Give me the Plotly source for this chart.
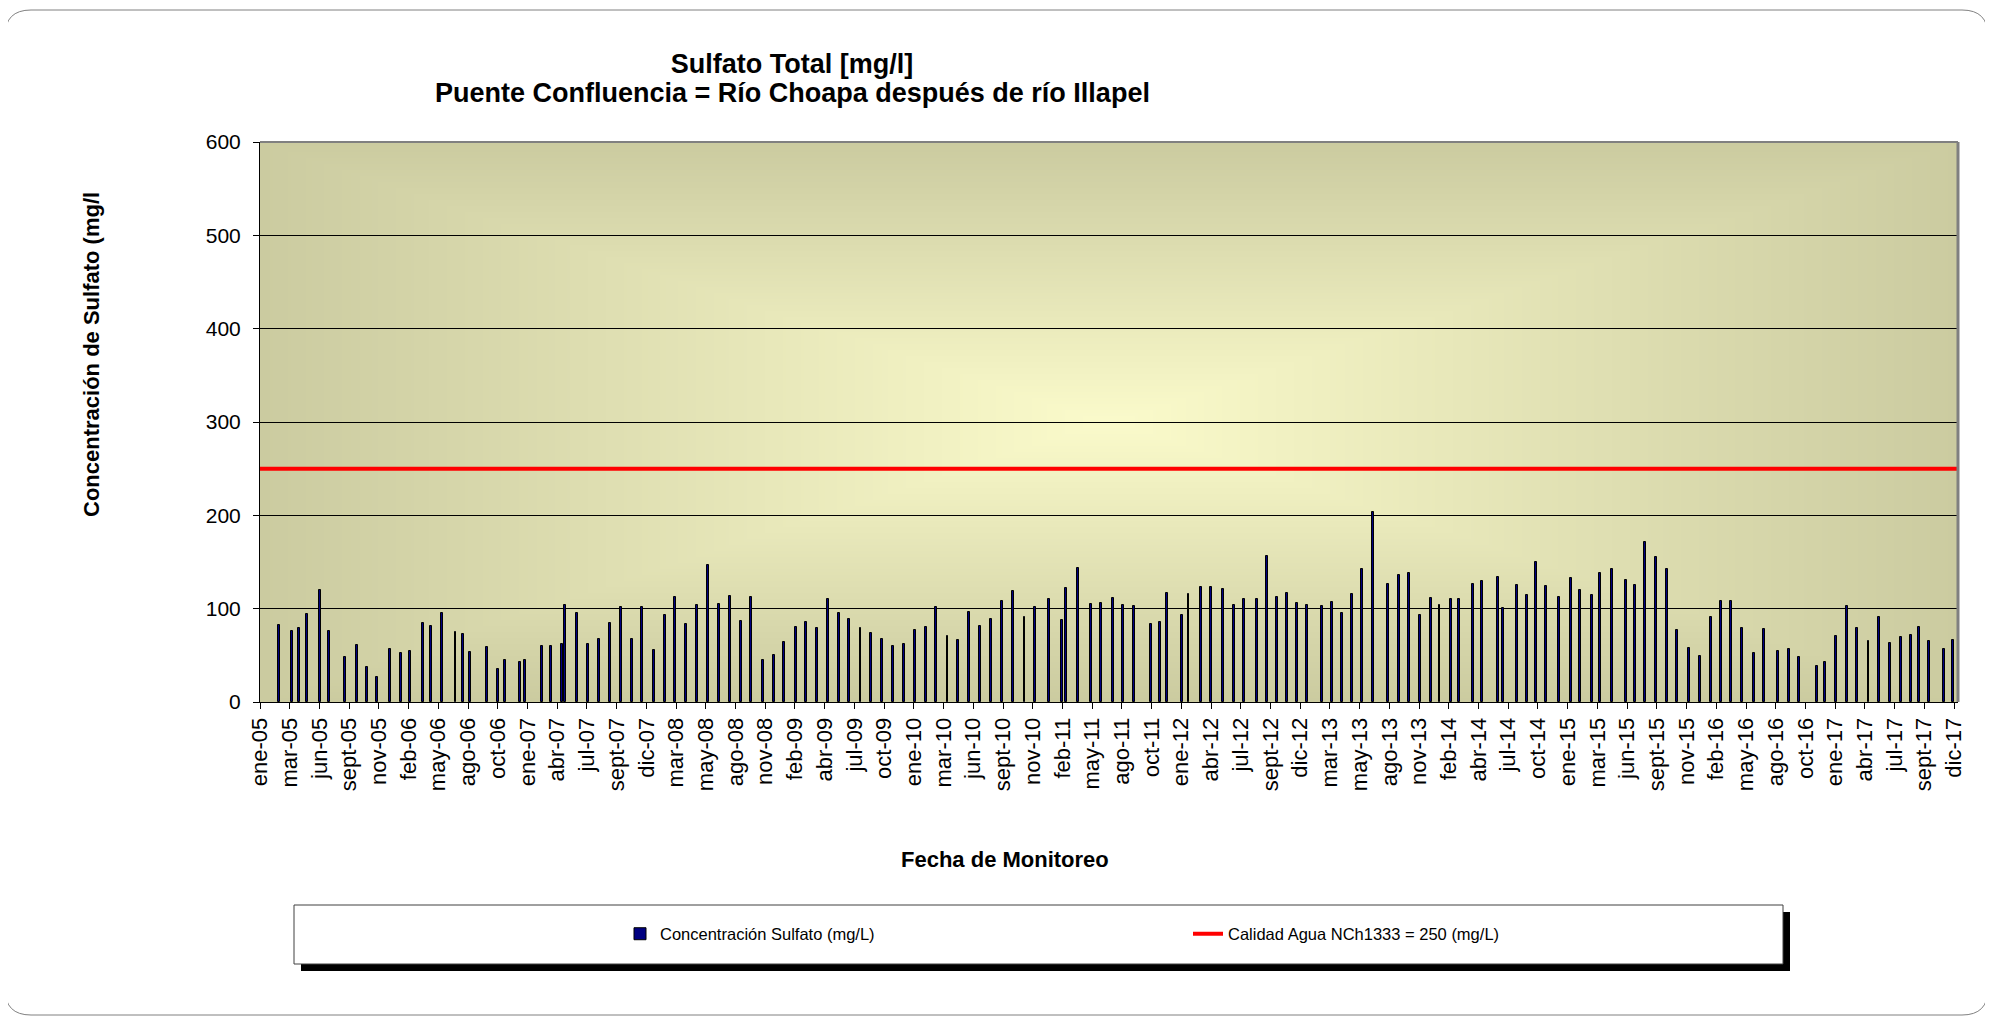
import base64
import struct
import zlib

import numpy as np
import pandas as pd
import plotly.graph_objects as go

# ---------------- data ----------------
fechas = [
    "2005-02-24", "2005-03-31", "2005-04-19", "2005-05-13", "2005-06-18", "2005-07-13", "2005-08-26",
    "2005-09-30", "2005-10-26", "2005-11-24", "2005-12-30", "2006-01-31", "2006-02-24", "2006-04-02",
    "2006-04-23", "2006-05-24", "2006-07-01", "2006-07-23", "2006-08-11", "2006-09-28", "2006-10-28",
    "2006-11-16", "2006-12-29", "2007-01-11", "2007-02-28", "2007-03-24", "2007-04-25", "2007-05-04",
    "2007-06-06", "2007-07-05", "2007-08-07",
    "2007-09-05", "2007-10-05", "2007-11-06", "2007-12-05", "2008-01-05", "2008-02-05", "2008-03-06",
    "2008-04-06", "2008-05-05", "2008-06-06", "2008-07-05", "2008-08-06", "2008-09-05", "2008-10-04",
    "2008-11-06", "2008-12-06", "2009-01-04", "2009-02-05", "2009-03-05", "2009-04-06", "2009-05-05",
    "2009-06-05", "2009-07-05", "2009-08-05", "2009-09-04", "2009-10-05", "2009-11-05", "2009-12-05",
    "2010-01-05", "2010-02-05", "2010-03-05",
    "2010-04-05", "2010-05-05", "2010-06-05", "2010-07-06", "2010-08-05", "2010-09-05", "2010-10-06",
    "2010-11-06", "2010-12-05", "2011-01-14", "2011-02-20", "2011-03-02", "2011-04-05", "2011-05-12",
    "2011-06-08", "2011-07-12", "2011-08-08", "2011-09-09", "2011-10-26", "2011-11-19", "2011-12-08",
    "2012-01-20", "2012-02-07", "2012-03-14", "2012-04-11", "2012-05-12", "2012-06-14", "2012-07-12",
    "2012-08-16", "2012-09-13", "2012-10-12",
    "2012-11-09", "2012-12-06", "2013-01-04", "2013-02-15", "2013-03-15", "2013-04-12", "2013-05-08",
    "2013-06-05", "2013-07-07", "2013-08-18", "2013-09-18", "2013-10-15", "2013-11-14", "2013-12-14",
    "2014-01-08", "2014-02-10", "2014-03-04", "2014-04-11", "2014-05-08", "2014-06-19", "2014-07-05",
    "2014-08-13", "2014-09-10", "2014-10-05", "2014-11-02", "2014-12-08", "2015-01-09", "2015-02-03",
    "2015-03-11", "2015-04-02", "2015-05-05",
    "2015-06-13", "2015-07-09", "2015-08-06", "2015-09-04", "2015-10-04", "2015-11-03", "2015-12-06",
    "2016-01-06", "2016-02-05", "2016-03-05", "2016-04-02", "2016-05-02", "2016-06-03", "2016-07-03",
    "2016-08-10", "2016-09-09", "2016-10-09", "2016-11-27", "2016-12-20", "2017-01-19", "2017-02-20",
    "2017-03-20", "2017-04-20", "2017-05-20", "2017-06-19", "2017-07-20", "2017-08-18", "2017-09-08",
    "2017-10-06", "2017-11-17", "2017-12-13",
]

sulfato = [
    83, 76, 79, 94, 120, 76, 48, 61, 38, 27, 57, 53, 55, 85, 81, 95, 75, 73, 54, 59, 35, 45, 43, 45,
    60, 60, 62, 104, 95, 62, 68,
    85, 102, 67, 102, 56, 93, 112, 84, 104, 147, 105, 114, 87, 113, 45, 50, 64, 80, 86, 79, 110, 95,
    89, 79, 74, 68, 60, 62, 77, 80, 102,
    71, 66, 96, 81, 89, 108, 119, 91, 102, 110, 88, 122, 144, 105, 106, 111, 104, 103, 84, 86, 117,
    93, 116, 123, 123, 121, 104, 110, 110, 156, 113,
    117, 106, 104, 103, 107, 95, 116, 142, 204, 126, 136, 138, 93, 111, 104, 110, 110, 126, 130, 134,
    101, 125, 115, 150, 124, 112, 133, 120, 115, 138, 142,
    131, 125, 171, 155, 142, 77, 58, 49, 91, 108, 108, 79, 52, 78, 55, 57, 48, 39, 43, 71, 103, 79,
    65, 91, 63, 70, 72, 80, 65, 57, 66,
]

limite_nch1333 = 250

etiquetas_x = [
    "ene-05", "mar-05", "jun-05", "sept-05", "nov-05", "feb-06", "may-06", "ago-06", "oct-06",
    "ene-07", "abr-07", "jul-07", "sept-07", "dic-07", "mar-08", "may-08", "ago-08", "nov-08",
    "feb-09", "abr-09", "jul-09", "oct-09", "ene-10", "mar-10", "jun-10", "sept-10", "nov-10",
    "feb-11", "may-11", "ago-11", "oct-11", "ene-12", "abr-12", "jul-12", "sept-12", "dic-12",
    "mar-13", "may-13", "ago-13", "nov-13", "feb-14", "abr-14", "jul-14", "oct-14", "ene-15",
    "mar-15", "jun-15", "sept-15", "nov-15", "feb-16", "may-16", "ago-16", "oct-16", "ene-17",
    "abr-17", "jul-17", "sept-17", "dic-17",
]

titulo_1 = "Sulfato Total [mg/l]"
titulo_2 = "Puente Confluencia = Río Choapa después de río Illapel"

# ---------------- layout geometry (page pixels) ----------------
PAGE_W, PAGE_H = 1993, 1019
OFF = 8                       # default body margin of the html page
W, H = PAGE_W - OFF, PAGE_H - OFF
PL, PR, PT, PB = 260, 1958, 142, 702  # plot area, page pixels
FONT = "Liberation Sans, Arial, sans-serif"

x_inicio = pd.Timestamp("2005-01-01")
x_fin = pd.Timestamp("2017-12-26")
paso_ticks = 83  # days between major ticks (Excel date axis)
tickvals = [(x_inicio + pd.Timedelta(days=paso_ticks * k)).strftime("%Y-%m-%d")
            for k in range(len(etiquetas_x))]


def px(xp):
    return (xp - PL) / (PR - PL)


def py(yp):
    return (PB - yp) / (PB - PT)


# ---------------- gradient background (Excel "from center") ----------------
def gradient_png(w, h, c_center, c_edge):
    xs = np.linspace(-1, 1, w)
    ys = np.linspace(-1, 1, h)
    X, Y = np.meshgrid(xs, ys)
    t = np.clip(np.maximum(np.abs(X), np.abs(Y)), 0, 1)
    cc = np.array(c_center, float)
    ce = np.array(c_edge, float)
    img = cc[None, None, :] * (1 - t[..., None]) + ce[None, None, :] * t[..., None]
    img = np.clip(np.round(img), 0, 255).astype(np.uint8)
    raw = b"".join(b"\x00" + img[i].tobytes() for i in range(h))

    def chunk(tag, data):
        return (struct.pack(">I", len(data)) + tag + data +
                struct.pack(">I", zlib.crc32(tag + data) & 0xFFFFFFFF))

    png = (b"\x89PNG\r\n\x1a\n" +
           chunk(b"IHDR", struct.pack(">IIBBBBB", w, h, 8, 2, 0, 0, 0)) +
           chunk(b"IDAT", zlib.compress(raw, 9)) +
           chunk(b"IEND", b""))
    return "data:image/png;base64," + base64.b64encode(png).decode()


bg_uri = gradient_png(566, 187, (251, 251, 203), (203, 203, 160))

# ---------------- figure ----------------
fig = go.Figure()

fig.add_trace(go.Bar(
    x=fechas, y=sulfato,
    name="Concentración Sulfato (mg/L)",
    width=5.5 * 86400000,
    marker=dict(color="#000080", line=dict(color="#000000", width=1)),
))

fig.add_trace(go.Scatter(
    x=[x_inicio.strftime("%Y-%m-%d"), x_fin.strftime("%Y-%m-%d")],
    y=[limite_nch1333, limite_nch1333],
    mode="lines",
    name="Calidad Agua NCh1333 = 250 (mg/L)",
    line=dict(color="#FF0000", width=4),
))

shapes = []
# plot border (top/right gray)
shapes.append(dict(type="line", xref="paper", yref="paper", x0=0, x1=1, y0=1, y1=1,
                   line=dict(color="#808080", width=2), layer="above"))
shapes.append(dict(type="line", xref="paper", yref="paper", x0=1, x1=1, y0=0, y1=1,
                   line=dict(color="#808080", width=3), layer="above"))

# legend box with shadow
lx0, lx1, ly0, ly1, sh = 294, 1783, 905, 964, 7
shapes.append(dict(type="rect", xref="paper", yref="paper",
                   x0=px(lx0 + sh), x1=px(lx1 + sh), y0=py(ly0 + sh), y1=py(ly1 + sh),
                   fillcolor="#000000", line=dict(width=0)))
shapes.append(dict(type="rect", xref="paper", yref="paper",
                   x0=px(lx0), x1=px(lx1), y0=py(ly0), y1=py(ly1),
                   fillcolor="#FFFFFF", line=dict(color="#404040", width=1)))

# outer rounded chart border
ox0, oy0, ox1, oy1, r = 5, 10, 1988, 1015, 26
path = (f"M {px(ox0 + r)},{py(oy0)} L {px(ox1 - r)},{py(oy0)} "
        f"Q {px(ox1)},{py(oy0)} {px(ox1)},{py(oy0 + r)} "
        f"L {px(ox1)},{py(oy1 - r)} Q {px(ox1)},{py(oy1)} {px(ox1 - r)},{py(oy1)} "
        f"L {px(ox0 + r)},{py(oy1)} Q {px(ox0)},{py(oy1)} {px(ox0)},{py(oy1 - r)} "
        f"L {px(ox0)},{py(oy0 + r)} Q {px(ox0)},{py(oy0)} {px(ox0 + r)},{py(oy0)} Z")
shapes.append(dict(type="path", xref="paper", yref="paper", path=path,
                   line=dict(color="#808080", width=1)))

annotations = [
    dict(text=f"<b>{titulo_2}</b>",
         xref="paper", yref="paper", x=px(792), y=py(93),
         xanchor="center", yanchor="middle", showarrow=False,
         font=dict(family=FONT, size=27, color="#000000")),
    dict(text="<b>Concentración de Sulfato (mg/l</b>", textangle=-90,
         xref="paper", yref="paper", x=px(91), y=py(355),
         xanchor="center", yanchor="middle", showarrow=False,
         font=dict(family=FONT, size=22, color="#000000")),
    dict(text="<b>Fecha de Monitoreo</b>",
         xref="paper", yref="paper", x=px(1005), y=py(859),
         xanchor="center", yanchor="middle", showarrow=False,
         font=dict(family=FONT, size=22, color="#000000")),
]

fig.update_layout(
    width=W, height=H,
    margin=dict(l=PL - OFF, r=W - (PR - OFF), t=PT - OFF, b=H - (PB - OFF), autoexpand=False),
    paper_bgcolor="#FFFFFF",
    plot_bgcolor="rgba(0,0,0,0)",
    font=dict(family=FONT, color="#000000"),
    title=dict(
        text=f"<b>{titulo_1}</b>",
        x=(792 - OFF) / W, xanchor="center", xref="container",
        y=1 - (64 - OFF) / H, yanchor="middle", yref="container",
        font=dict(family=FONT, size=27, color="#000000"),
    ),
    xaxis=dict(
        type="date",
        range=[x_inicio.strftime("%Y-%m-%d"), x_fin.strftime("%Y-%m-%d")],
        tickmode="array", tickvals=tickvals, ticktext=etiquetas_x,
        tickangle=-90, tickfont=dict(family=FONT, size=22, color="#000000"),
        ticks="outside", ticklen=6, tickcolor="#000000",
        showline=True, linecolor="#000000", linewidth=1,
        showgrid=False, zeroline=False,
    ),
    yaxis=dict(
        range=[0, 600], tickmode="array", tickvals=[0, 100, 200, 300, 400, 500, 600],
        tickfont=dict(family=FONT, size=21, color="#000000"),
        ticks="outside", ticklen=6, tickcolor="#000000", ticklabelstandoff=8,
        showline=True, linecolor="#000000", linewidth=1,
        showgrid=True, gridcolor="#000000", gridwidth=1, zeroline=False,
    ),
    bargap=0,
    showlegend=True,
    legend=dict(
        orientation="h", x=px(620), y=py(934), xanchor="left", yanchor="middle",
        xref="paper", yref="paper",
        entrywidth=523, entrywidthmode="pixels",
        bgcolor="rgba(0,0,0,0)", borderwidth=0,
        font=dict(family=FONT, size=16.5, color="#000000"),
    ),
    images=[dict(source=bg_uri, xref="paper", yref="paper", x=0, y=1, sizex=1, sizey=1,
                 sizing="stretch", layer="below", xanchor="left", yanchor="top")],
    shapes=shapes,
    annotations=annotations,
)

fig.write_html("out.html")
